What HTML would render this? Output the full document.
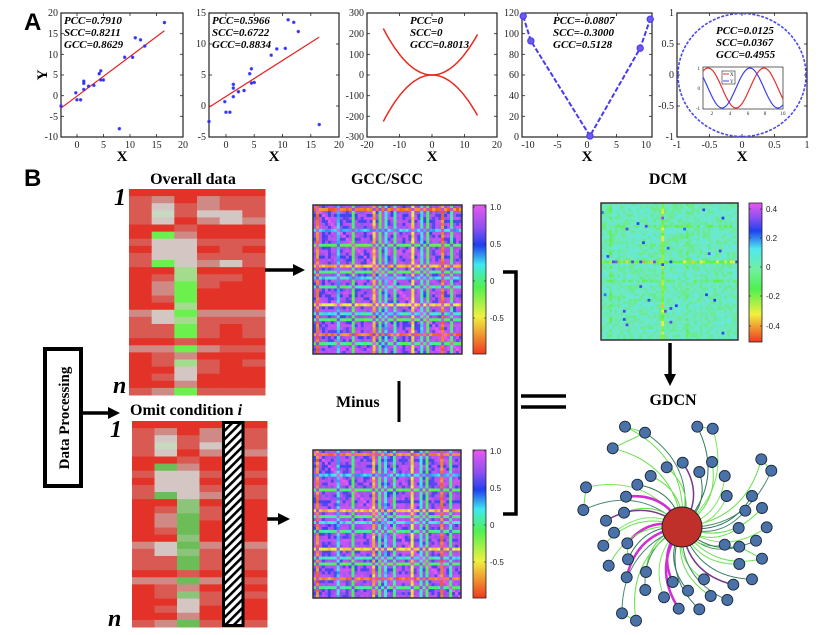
<!DOCTYPE html>
<html><head><meta charset="utf-8">
<style>
html,body{margin:0;padding:0;background:#fff;width:818px;height:635px;overflow:hidden}
svg{display:block}
.t{font-family:"Liberation Serif",serif;font-size:10px;fill:#222}
.lab{font-family:"Liberation Serif",serif;font-weight:bold;font-style:italic;font-size:11px;fill:#000}
.ax{font-family:"Liberation Serif",serif;font-weight:bold;font-size:15px;fill:#000}
.ttl{font-family:"Liberation Serif",serif;font-weight:bold;font-size:16px;fill:#000}
.cb{font-family:"Liberation Sans",sans-serif;font-size:8px;fill:#222}
.big{font-family:"Liberation Sans",sans-serif;font-weight:bold;font-size:24px;fill:#000}
.ni{font-family:"Liberation Serif",serif;font-weight:bold;font-style:italic;font-size:24px;fill:#000}
</style></head><body>
<svg id="s" width="818" height="635" viewBox="0 0 818 635" xmlns="http://www.w3.org/2000/svg">
<defs>
<pattern id="hatch" width="6" height="6" patternUnits="userSpaceOnUse" patternTransform="rotate(45)">
<rect width="6" height="6" fill="#fff"/><rect width="2.6" height="6" fill="#000"/>
</pattern>
<linearGradient id="cg1" x1="0" y1="0" x2="0" y2="1">
<stop offset="0" stop-color="#e858f0"/><stop offset="0.15" stop-color="#9050f0"/><stop offset="0.27" stop-color="#2040f0"/><stop offset="0.4" stop-color="#40e8f0"/><stop offset="0.55" stop-color="#50f050"/><stop offset="0.75" stop-color="#f0f040"/><stop offset="1" stop-color="#f03820"/>
</linearGradient>
<linearGradient id="cg2" x1="0" y1="0" x2="0" y2="1">
<stop offset="0" stop-color="#e858f0"/><stop offset="0.1" stop-color="#9050f0"/><stop offset="0.2" stop-color="#2040f0"/><stop offset="0.33" stop-color="#50e8f0"/><stop offset="0.48" stop-color="#70f0a0"/><stop offset="0.62" stop-color="#50f050"/><stop offset="0.8" stop-color="#f0f040"/><stop offset="1" stop-color="#f03820"/>
</linearGradient>
</defs>
<g id="g"></g>

<text class="big" x="24" y="30">A</text>
<text class="big" x="24" y="186">B</text>

<text class="lab" x="64" y="24">PCC=0.7910</text>
<text class="lab" x="64" y="36">SCC=0.8211</text>
<text class="lab" x="64" y="48">GCC=0.8629</text>
<g class="t" text-anchor="end">
<text x="58" y="16">20</text><text x="58" y="37">15</text><text x="58" y="58">10</text><text x="58" y="78">5</text><text x="58" y="99">0</text><text x="58" y="120">-5</text><text x="58" y="140">-10</text>
</g>
<g class="t" text-anchor="middle">
<text x="77" y="148">0</text><text x="103.5" y="148">5</text><text x="130" y="148">10</text><text x="156.6" y="148">15</text><text x="183" y="148">20</text>
</g>
<text class="ax" x="122" y="161" text-anchor="middle">X</text>
<text class="ax" transform="translate(47,75) rotate(-90)" text-anchor="middle">Y</text>

<text class="lab" x="212" y="24">PCC=0.5966</text>
<text class="lab" x="212" y="36">SCC=0.6722</text>
<text class="lab" x="212" y="48">GCC=0.8834</text>
<g class="t" text-anchor="end">
<text x="206" y="16">15</text><text x="206" y="47">10</text><text x="206" y="78">5</text><text x="206" y="109">0</text><text x="206" y="140">-5</text>
</g>
<g class="t" text-anchor="middle">
<text x="226" y="148">0</text><text x="254" y="148">5</text><text x="282.5" y="148">10</text><text x="311" y="148">15</text><text x="339" y="148">20</text>
</g>
<text class="ax" x="274" y="161" text-anchor="middle">X</text>

<text class="lab" x="410" y="24">PCC=0</text>
<text class="lab" x="410" y="36">SCC=0</text>
<text class="lab" x="410" y="48">GCC=0.8013</text>
<g class="t" text-anchor="end">
<text x="364" y="16">300</text><text x="364" y="37">200</text><text x="364" y="58">100</text><text x="364" y="78">0</text><text x="364" y="99">-100</text><text x="364" y="120">-200</text><text x="364" y="140">-300</text>
</g>
<g class="t" text-anchor="middle">
<text x="367" y="148">-20</text><text x="399.5" y="148">-10</text><text x="432" y="148">0</text><text x="464.5" y="148">10</text><text x="497" y="148">20</text>
</g>
<text class="ax" x="432" y="161" text-anchor="middle">X</text>

<text class="lab" x="553" y="24">PCC=-0.0807</text>
<text class="lab" x="553" y="36">SCC=-0.3000</text>
<text class="lab" x="553" y="48">GCC=0.5128</text>
<g class="t" text-anchor="end">
<text x="519" y="16">120</text><text x="519" y="37">100</text><text x="519" y="58">80</text><text x="519" y="78">60</text><text x="519" y="99">40</text><text x="519" y="120">20</text><text x="519" y="140">0</text>
</g>
<g class="t" text-anchor="middle">
<text x="528" y="148">-10</text><text x="557.5" y="148">-5</text><text x="587" y="148">0</text><text x="616.5" y="148">5</text><text x="646" y="148">10</text>
</g>
<text class="ax" x="587" y="161" text-anchor="middle">X</text>

<text class="lab" x="716" y="34">PCC=0.0125</text>
<text class="lab" x="716" y="46">SCC=0.0367</text>
<text class="lab" x="716" y="58">GCC=0.4955</text>
<g class="t" text-anchor="end">
<text x="674" y="16">1</text><text x="674" y="47">0.5</text><text x="674" y="78">0</text><text x="674" y="109">-0.5</text><text x="674" y="140">-1</text>
</g>
<g class="t" text-anchor="middle">
<text x="677" y="148">-1</text><text x="709.5" y="148">-0.5</text><text x="742" y="148">0</text><text x="774.5" y="148">0.5</text><text x="807" y="148">1</text>
</g>
<text class="ax" x="742" y="161" text-anchor="middle">X</text>
<g style="font-family:'Liberation Serif',serif;font-size:5px;fill:#222">
<text x="700" y="70" text-anchor="end">1</text><text x="700" y="90" text-anchor="end">0</text><text x="700" y="110" text-anchor="end">-1</text>
<text x="712" y="115" text-anchor="middle">2</text><text x="730" y="115" text-anchor="middle">4</text><text x="748" y="115" text-anchor="middle">6</text><text x="765" y="115" text-anchor="middle">8</text><text x="783" y="115" text-anchor="middle">10</text>
<text x="730" y="76">X</text><text x="730" y="83">Y</text>
</g>

<text class="ttl" x="193" y="184" text-anchor="middle">Overall data</text>
<text class="ttl" x="387" y="184" text-anchor="middle">GCC/SCC</text>
<text class="ttl" x="668" y="184" text-anchor="middle">DCM</text>
<text class="ttl" x="673" y="405" text-anchor="middle">GDCN</text>
<text class="ttl" x="130" y="415">Omit condition <tspan font-style="italic">i</tspan></text>
<text class="ttl" x="336" y="407">Minus</text>
<text class="ni" x="114" y="205">1</text>
<text class="ni" x="113" y="393">n</text>
<text class="ni" x="110" y="437">1</text>
<text class="ni" x="108" y="626">n</text>
<rect x="45" y="349" width="36" height="137" fill="#fff" stroke="#000" stroke-width="4"/>
<text class="ttl" transform="translate(69,418) rotate(-90)" text-anchor="middle" style="font-size:15px">Data Processing</text>

<g class="cb">
<text x="490" y="210">1.0</text><text x="490" y="247">0.5</text><text x="490" y="284">0</text><text x="490" y="321">-0.5</text>
<text x="490" y="454">1.0</text><text x="490" y="491">0.5</text><text x="490" y="528">0</text><text x="490" y="565">-0.5</text>
<text x="766" y="212">0.4</text><text x="766" y="241">0.2</text><text x="766" y="270">0</text><text x="766" y="299">-0.2</text><text x="766" y="329">-0.4</text>
</g>
</svg>
<script>
(function(){
var NS="http://www.w3.org/2000/svg",G=document.getElementById("g");
function el(n,a,p){var e=document.createElementNS(NS,n);for(var k in a)e.setAttribute(k,a[k]);(p||G).appendChild(e);return e;}
var seed=7;function rnd(){seed=(seed*16807)%2147483647;return (seed-1)/2147483646;}
function box(x0,y0,x1,y1){el("rect",{x:x0,y:y0,width:x1-x0,height:y1-y0,fill:"none",stroke:"#222","stroke-width":1.2});}
function ticks(x0,y0,x1,y1,xs,ys){xs.forEach(function(x){el("line",{x1:x,y1:y1,x2:x,y2:y1-3,stroke:"#222","stroke-width":.8});el("line",{x1:x,y1:y0,x2:x,y2:y0+3,stroke:"#222","stroke-width":.8});});
ys.forEach(function(y){el("line",{x1:x0,y1:y,x2:x0+3,y2:y,stroke:"#222","stroke-width":.8});el("line",{x1:x1,y1:y,x2:x1-3,y2:y,stroke:"#222","stroke-width":.8});});}
function star(x,y){el("path",{d:"M"+(x-1.8)+","+y+"h3.6M"+x+","+(y-1.8)+"v3.6M"+(x-1.3)+","+(y-1.3)+"l2.6,2.6M"+(x-1.3)+","+(y+1.3)+"l2.6,-2.6",stroke:"#3030f0","stroke-width":.8});}
var X=[-3,-0.2,0,0.7,1.3,1.3,1.3,2.2,3.2,4.2,4.5,4.5,5,8,9,10.5,11,12,12.8,16.5];
var Y1=[-2.5,0.7,-1,-1,3.5,3,1.5,2.3,2.5,5.3,6,3.8,3.8,-8,9.3,9.3,14,13.5,12,17.7];
var Y2=[-2.5,0.7,-1,-1,3.5,2.9,1.5,2.3,2.5,5.2,6,3.7,3.8,8.2,9.2,9.3,13.9,13.5,12,-3];
box(61,13,183,137);ticks(61,13,183,137,[77,103.5,130,156.6],[33.7,54.3,75,95.7,116.3]);
function p1x(x){return 61+5.304*(x+3)}function p1y(y){return 137-4.133*(y+10)}
el("line",{x1:p1x(-3),y1:p1y(-3),x2:p1x(16.5),y2:p1y(15.7),stroke:"#e82020","stroke-width":1.2});
X.forEach(function(x,i){star(p1x(x),p1y(Y1[i]));});
box(209,13,339,137);ticks(209,13,339,137,[226,254.2,282.5,310.8],[44,75,106]);
function p2x(x){return 209+5.652*(x+3)}function p2y(y){return 137-6.2*(y+5)}
el("line",{x1:p2x(-3),y1:p2y(-0.2),x2:p2x(16.5),y2:p2y(11.1),stroke:"#e82020","stroke-width":1.2});
X.forEach(function(x,i){star(p2x(x),p2y(Y2[i]));});
box(367,13,497,137);ticks(367,13,497,137,[399.5,432,464.5],[33.7,54.3,75,95.7,116.3]);
var d1="",d2="";for(var x=-15;x<=14.01;x+=0.25){var px=367+3.25*(x+20),y=x*x;d1+=(d1?"L":"M")+px.toFixed(1)+","+(75-y*0.2067).toFixed(1);d2+=(d2?"L":"M")+px.toFixed(1)+","+(75+y*0.2067).toFixed(1);}
el("path",{d:d1,fill:"none",stroke:"#e82a20","stroke-width":1.5});el("path",{d:d2,fill:"none",stroke:"#e82a20","stroke-width":1.5});
box(522,13,652,137);ticks(522,13,652,137,[557.5,587,616.5],[33.7,54.3,75,95.7,116.3]);
var P4=[[-10.8,117],[-9.5,93],[0.5,1],[9,86],[10.7,114]],d="";
P4.forEach(function(p,i){d+=(i?"L":"M")+(522+5.909*(p[0]+11))+","+(137-1.0333*p[1]);});
el("path",{d:d,fill:"none",stroke:"#4a3af0","stroke-width":2,"stroke-dasharray":"5,2"});
P4.forEach(function(p){el("circle",{cx:522+5.909*(p[0]+11),cy:137-1.0333*p[1],r:3.2,fill:"#6a5af0",stroke:"#4a3af0"});});
box(677,13,807,137);ticks(677,13,807,137,[709.5,742,774.5],[44,75,106]);
el("ellipse",{cx:742,cy:75,rx:64,ry:61.5,fill:"none",stroke:"#4a4af0","stroke-width":1.6,"stroke-dasharray":"3,1.5"});
el("rect",{x:703,y:67,width:80,height:42,fill:"#fff",stroke:"#222","stroke-width":.7});
var dr="",db="";for(var x=1;x<=10.001;x+=0.1){var px=703+8.89*(x-1);dr+=(dr?"L":"M")+px.toFixed(1)+","+(88-20*Math.sin(x)).toFixed(1);db+=(db?"L":"M")+px.toFixed(1)+","+(88-20*Math.cos(x)).toFixed(1);}
el("path",{d:dr,fill:"none",stroke:"#e83030","stroke-width":1.2});el("path",{d:db,fill:"none",stroke:"#4040f0","stroke-width":1.2});
el("rect",{x:722,y:71,width:13,height:13,fill:"#fff",stroke:"#222","stroke-width":.6});
el("line",{x1:723,y1:74,x2:729,y2:74,stroke:"#e83030"});el("line",{x1:723,y1:81,x2:729,y2:81,stroke:"#4040f0"});

var C={R:"#e33328",r:"#d95a52",p:"#cf8a86",w:"#d4c6c2",g:"#6cf04e",l:"#a3dc8c",q:"#c9d8c0"};
var rows=["RRRRRR","rpRprr","rwrprr","rqrwwr","rwRpwp","RRrRRR","RgpRRR","rwwrrr","RwwRrR","rwwrrr","rgwpwr","RRlRRR","RrlrrR","RpgrRR","RpgRRR","RrgRRR","RRlRRR","pwgppp","rwlrrr","rrgrRr","rrgrRr","RRrRRR","ppgprr","RrpRRR","RrlrRr","RRwrRR","RrwRRR","RRpRRR","rpgrrr"];
function heat(x0,y0,x1,y1,alt,hc){var cw=(x1-x0)/6,rh=(y1-y0)/rows.length;
rows.forEach(function(r,i){for(var j=0;j<6;j++){var c=C[r[j]];if(alt&&(r[j]=="g"))c="#6cbc58";if(alt&&r[j]=="l")c="#8cc47c";
el("rect",{x:(x0+j*cw).toFixed(2),y:(y0+i*rh).toFixed(2),width:(cw+0.5).toFixed(2),height:(rh+0.5).toFixed(2),fill:c});}});
if(hc!=null){el("rect",{x:x0+hc*cw+1.5,y:y0+1.5,width:cw-3,height:y1-y0-3,fill:"url(#hatch)",stroke:"#000","stroke-width":3});}}
heat(129,189,265,395,false,null);
heat(132,421,267,627,true,4);

function jet(v){var st=[[-1,[240,56,32]],[-0.55,[240,240,64]],[0,[80,240,80]],[0.25,[64,232,240]],[0.5,[32,64,240]],[0.75,[144,80,240]],[1,[232,88,240]]];
v=Math.max(-1,Math.min(1,v));for(var i=1;i<st.length;i++){if(v<=st[i][0]){var a=st[i-1],b=st[i],t=(v-a[0])/(b[0]-a[0]);return "rgb("+[0,1,2].map(function(k){return Math.round(a[1][k]+(b[1][k]-a[1][k])*t)}).join(",")+")";}}return "rgb(232,88,240)";}
function corr(x0,y0,sz,sd){seed=sd;var N=50,s=[];for(var i=0;i<N;i++)s.push(0.95+rnd()*0.05);
var sp={1:-0.85,8:0.3,13:0,20:-0.7,22:0.05,24:0.25,27:0.1,33:-0.6,36:0.2,38:0.02,43:-0.85,46:0.1};
var bl={5:1,11:1,17:1,30:1,40:1,3:1};
for(var k in sp)s[k]=sp[k];var cs=sz/N;
for(var i=0;i<N;i++)for(var j=0;j<N;j++){var v;
if(i==j)v=1;else if(sp[i]!=null&&sp[j]!=null)v=0.7+rnd()*0.3;
else{v=s[i]*s[j];var r=rnd();if(sp[i]==null&&sp[j]==null){if(bl[i]||bl[j])v-=(r<0.5?0.35:0.1*r);else v-=(r<0.12?0.35:r*0.2);}else v+=(rnd()-0.5)*0.2;}
el("rect",{x:(x0+j*cs).toFixed(2),y:(y0+i*cs).toFixed(2),width:(cs+0.4).toFixed(2),height:(cs+0.4).toFixed(2),fill:jet(v)});}
el("rect",{x:x0,y:y0,width:sz,height:sz,fill:"none",stroke:"#333","stroke-width":1.5});}
corr(313,205,149,11);corr(313,450,148,23);
function cbar(x,y,w,h,g,tk){el("rect",{x:x,y:y,width:w,height:h,fill:"url(#"+g+")",stroke:"#222","stroke-width":.8});tk.forEach(function(t){el("line",{x1:x+w,y1:t,x2:x+w-2,y2:t,stroke:"#222","stroke-width":.6});el("line",{x1:x,y1:t,x2:x+2,y2:t,stroke:"#222","stroke-width":.6});});}
cbar(473,205,13,149,"cg1",[207,244,281,318]);cbar(473,450,13,148,"cg1",[451,488,525,562]);
function dcol(v){var st=[[-0.5,[240,56,32]],[-0.35,[240,240,64]],[-0.15,[96,240,64]],[0,[112,232,192]],[0.1,[96,232,240]],[0.22,[32,64,240]],[0.32,[144,80,240]],[0.45,[232,88,240]]];
v=Math.max(-0.5,Math.min(0.45,v));for(var i=1;i<st.length;i++){if(v<=st[i][0]){var a=st[i-1],b=st[i],t=(v-a[0])/(b[0]-a[0]);return "rgb("+[0,1,2].map(function(k){return Math.round(a[1][k]+(b[1][k]-a[1][k])*t)}).join(",")+")";}}}
seed=99;var N=50,x0=601,y0=203,sz=137,cs=sz/N;
for(var i=0;i<N;i++)for(var j=0;j<N;j++){var v=(rnd()-0.5)*0.14;
if(j==22)v=-0.15-rnd()*0.25*(rnd()<0.5?1:0.3);if(i==21)v=-0.12-rnd()*0.3*(rnd()<0.5?1:0.2);
if(j==31||i==28||j==3||i==8)v-=rnd()*0.12;if(rnd()<0.008)v=0.18+rnd()*0.1;if((i==21||j==22)&&rnd()<0.1)v=0.2+rnd()*0.15;
el("rect",{x:(x0+j*cs).toFixed(2),y:(y0+i*cs).toFixed(2),width:(cs+0.4).toFixed(2),height:(cs+0.4).toFixed(2),fill:dcol(v)});}
el("rect",{x:x0,y:y0,width:sz,height:sz,fill:"none",stroke:"#333","stroke-width":1.5});
cbar(749,203,13,139,"cg2",[209,238,267,296,326]);

function arrow(x1,y1,x2,y2){var dx=x2-x1,dy=y2-y1,L=Math.hypot(dx,dy),ux=dx/L,uy=dy/L,hx=x2-ux*12,hy=y2-uy*12;
el("line",{x1:x1,y1:y1,x2:hx,y2:hy,stroke:"#000","stroke-width":3.5});
el("polygon",{points:x2+","+y2+" "+(hx-uy*6)+","+(hy+ux*6)+" "+(hx+uy*6)+","+(hy-ux*6),fill:"#000"});}
arrow(265,270,305,270);arrow(267,519,290,519);arrow(83,413,120,413);arrow(670,343,670,386);
el("line",{x1:399,y1:381,x2:399,y2:422,stroke:"#000","stroke-width":3});
el("path",{d:"M503,272H516V514H503",fill:"none",stroke:"#000","stroke-width":3.5});
el("line",{x1:521,y1:396,x2:566,y2:396,stroke:"#000","stroke-width":3.5});
el("line",{x1:521,y1:407,x2:566,y2:407,stroke:"#000","stroke-width":3.5});

var nodes=[[195,140],[255,158],[158,205],[412,140],[458,146],[320,262],[368,248],[456,246],[418,276],[494,288],[604,238],[634,272],[272,288],[232,314],[78,322],[198,350],[70,390],[192,398],[138,422],[162,458],[130,497],[202,490],[146,557],[204,538],[200,592],[258,576],[256,630],[338,606],[384,632],[312,652],[356,686],[186,700],[228,722],[418,688],[432,598],[452,648],[502,660],[520,614],[576,598],[538,552],[606,536],[538,500],[494,494],[588,482],[620,442],[536,444],[556,392],[606,384],[576,348],[500,348]];
var cx=682,cy=527;var cols=["#66e04a","#4a8a70","#66e04a","#2f7a5a","#7ae860"];
var ng=el("g",{});
nodes.forEach(function(n,i){var x=560+n[0]/3,y=380+n[1]/3,dx=x-cx,dy=y-cy,mx=(x+cx)/2-dy*0.35,my=(y+cy)/2+dx*0.35;
var c=cols[i%5],w=1;
if(i>=14&&i<=32&&(i%3==0)){c="#d030d0";w=2.5;}if(i==37||i==18||i==6){c="#7a3a8a";w=1.5;}
el("path",{d:"M"+cx+","+cy+"Q"+mx.toFixed(1)+","+my.toFixed(1)+" "+x.toFixed(1)+","+y.toFixed(1),fill:"none",stroke:c,"stroke-width":w},ng);});
[[0,1],[1,2],[3,4],[10,11],[14,16],[31,32],[21,23],[40,41]].forEach(function(p){var a=nodes[p[0]],b=nodes[p[1]];el("line",{x1:560+a[0]/3,y1:380+a[1]/3,x2:560+b[0]/3,y2:380+b[1]/3,stroke:"#66e04a","stroke-width":1},ng);});
el("circle",{cx:cx,cy:cy,r:20,fill:"#c0302a",stroke:"#222","stroke-width":1},ng);
nodes.forEach(function(n){el("circle",{cx:(560+n[0]/3).toFixed(1),cy:(380+n[1]/3).toFixed(1),r:5.5,fill:"#4a72a8",stroke:"#1a2a3a","stroke-width":.9},ng);});
})();
</script>
</body></html>
